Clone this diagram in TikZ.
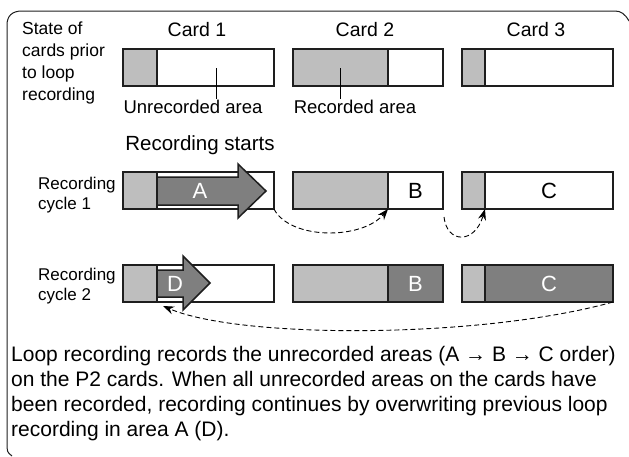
\documentclass[tikz,border=0pt]{standalone}
\usepackage{fontspec}
\setmainfont{Liberation Sans}
\usetikzlibrary{arrows.meta}
\definecolor{lightgr}{HTML}{BEBEBE}
\definecolor{darkgr}{HTML}{7F7F7F}
\definecolor{ink}{HTML}{1E1E1E}

\begin{document}
\begin{tikzpicture}[x=1pt,y=-1pt,
	seg/.style={draw=ink, line width=1.8pt, minimum height=37pt, inner sep=0pt, outer sep=0pt, anchor=west},
	lt/.style={seg, fill=lightgr},
	wt/.style={seg, fill=white, font=\fontsize{22}{22}\selectfont},
	dk/.style={seg, fill=darkgr, text=white, font=\fontsize{22}{22}\selectfont},
	bigarrow/.style={draw=ink, line width=1.5pt, fill=darkgr, line join=miter},
	cardlbl/.style={font=\fontsize{19.5}{19.5}\selectfont, inner sep=1pt},
	arealbl/.style={font=\fontsize{18.5}{18.5}\selectfont, inner sep=1pt},
	side/.style={font=\fontsize{17}{20}\selectfont, align=left, inner sep=0pt, anchor=west},
	loopline/.style={dash pattern=on 5pt off 3pt, line width=0.9pt, -{Stealth[length=11pt,width=8pt]}},
	frame/.style={line width=1pt, draw=ink}
	]
	\useasboundingbox (0,0) rectangle (629,456);
	%%%%%%%%%%%%%%% frame
	\draw[frame] (12,456) .. controls (7,452) .. (7,442) -- (7,25) .. controls (7,16) and (12,11) .. (22,11)
		-- (615,11) .. controls (621,11) and (625,14) .. (629,21);
	%%%%%%%%%%%%%%% titles
	\node[cardlbl] (t1) at (197,30) {Card 1};
	\node[cardlbl] (t2) at (365,30) {Card 2};
	\node[cardlbl] (t3) at (536,30) {Card 3};
	\node[side, anchor=north west, font=\fontsize{17.5}{22}\selectfont] (st) at (22,22) {State of\\cards prior\\to loop\\recording};
	%%%%%%%%%%%%%%% before loop recording
	\node[lt, minimum width=34pt] (g11) at (123,67.5) {};
	\node[wt, minimum width=117pt] (w11) at (g11.east) {};
	\node[lt, minimum width=95pt] (g12) at (293,67.5) {};
	\node[wt, minimum width=55pt] (w12) at (g12.east) {};
	\node[lt, minimum width=23pt] (g13) at (462,67.5) {};
	\node[wt, minimum width=128pt] (w13) at (g13.east) {};
	\node[arealbl] (ua) at (193,107) {Unrecorded area};
	\node[arealbl] (ra) at (355,107) {Recorded area};
	\coordinate (p1) at (216,68);
	\coordinate (p2) at (340,68);
	\draw[line width=1pt] (p1) -- (p1 |- ua.north);
	\draw[line width=1pt] (p2) -- (p2 |- ra.north);
	%%%%%%%%%%%%%%% cycle 1
	\node[cardlbl, font=\fontsize{20.5}{20.5}\selectfont] (rs) at (200,145) {Recording starts};
	\node[side] (cy1) at (38,195) {Recording\\cycle 1};
	\node[lt, minimum width=34pt] (g21) at (123,190.5) {};
	\node[wt, minimum width=117pt] (w21) at (g21.east) {};
	\node[lt, minimum width=95pt] (g22) at (293,190.5) {};
	\node[wt, minimum width=55pt] (w22) at (g22.east) {B};
	\node[lt, minimum width=23pt] (g23) at (462,190.5) {};
	\node[wt, minimum width=128pt] (w23) at (g23.east) {C};
	\draw[bigarrow] (157,177) -- (238,177) -- (238,164) -- (266,191) -- (238,218) -- (238,205) -- (157,205) -- cycle;
	\node[cardlbl, text=white, font=\fontsize{22}{22}\selectfont] (la) at (200,191) {A};
	%%%%%%%%%%%%%%% cycle 2
	\node[side] (cy2) at (38,286) {Recording\\cycle 2};
	\node[lt, minimum width=34pt] (g31) at (123,283.5) {};
	\node[wt, minimum width=117pt] (w31) at (g31.east) {};
	\node[lt, minimum width=95pt] (g32) at (293,283.5) {};
	\node[dk, minimum width=55pt] (d32) at (g32.east) {B};
	\node[lt, minimum width=23pt] (g33) at (462,283.5) {};
	\node[dk, minimum width=128pt] (d33) at (g33.east) {C};
	\draw[bigarrow] (157,270) -- (183,270) -- (183,256) -- (210,283) -- (183,310) -- (183,297) -- (157,297) -- cycle;
	\node[cardlbl, text=white, font=\fontsize{22}{22}\selectfont] (ld) at (175,284) {D};
	%%%%%%%%%%%%%%% order of recording
	\coordinate (s2) at (444,217);
	\coordinate (e3) at (163,306);
	\draw[loopline] (w21.south east) .. controls (290,240) and (362,240) .. (g22.south east);
	\draw[loopline] (s2) .. controls (447,244) and (475,244) .. (g23.south east);
	\draw[loopline] (d33.south east) .. controls (480,339) and (240,339) .. (e3);
	%%%%%%%%%%%%%%% explanation
	\node[anchor=north west, align=left, inner sep=0pt, font=\fontsize{21}{25}\selectfont] (txt) at (11,346)
		{Loop recording records the unrecorded areas (A → B → C order)\\
		on the P2 cards. When all unrecorded areas on the cards have\\
		been recorded, recording continues by overwriting previous loop\\
		recording in area A (D).};
\end{tikzpicture}
\end{document}
